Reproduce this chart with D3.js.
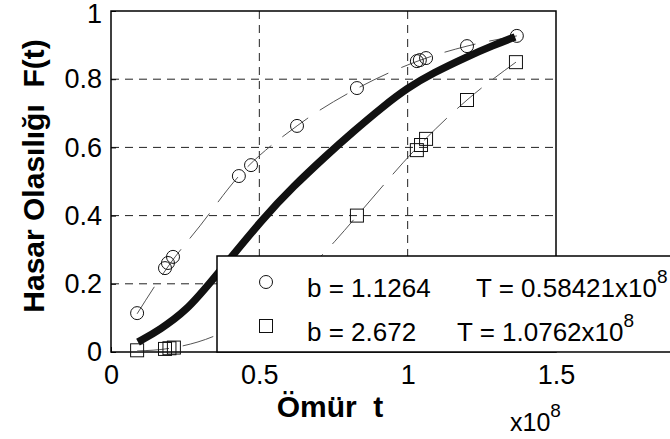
<!DOCTYPE html>
<html>
<head>
<meta charset="utf-8">
<script src="https://cdn.jsdelivr.net/npm/d3@7"></script>
<style>
  body { margin: 0; background: #fff; }
  svg { font-family: "Liberation Sans", Arial, sans-serif; }
</style>
</head>
<body>
<div id="chart"></div>
<script>
// axis ticks (x in units of 1e8)
const xTicks = [0, 0.5, 1, 1.5];
const yTicks = [0, 0.2, 0.4, 0.6, 0.8, 1];

// series 1 (circles): b = 1.1264, T = 0.58421e8
const circlePoints = [
  [0.088, 0.114], [0.182, 0.246], [0.192, 0.261], [0.209, 0.279],
  [0.431, 0.516], [0.472, 0.548], [0.627, 0.663], [0.829, 0.774],
  [1.031, 0.853], [1.041, 0.856], [1.062, 0.862], [1.2, 0.897], [1.368, 0.927]
];
const circleFit = [
  [0.088, 0.112], [0.2, 0.26], [0.3, 0.37], [0.43, 0.515], [0.63, 0.665],
  [0.83, 0.773], [1.04, 0.855], [1.2, 0.897], [1.368, 0.927]
];

// series 2 (squares): b = 2.672, T = 1.0762e8
const squarePoints = [
  [0.088, 0.005], [0.182, 0.009], [0.197, 0.011], [0.212, 0.013],
  [0.829, 0.40], [1.031, 0.592], [1.045, 0.607], [1.062, 0.625],
  [1.2, 0.739], [1.365, 0.85]
];
const squareFit = [
  [0.088, 0.003], [0.2, 0.011], [0.357, 0.05], [0.55, 0.155], [0.755, 0.325],
  [0.83, 0.40], [1.04, 0.607], [1.2, 0.739], [1.365, 0.85]
];

// thick curve
const thickCurve = [
  [0.091, 0.029], [0.165, 0.065], [0.256, 0.123], [0.334, 0.202], [0.519, 0.399],
  [0.613, 0.484], [0.728, 0.578], [0.816, 0.646], [0.917, 0.72], [1.0, 0.775],
  [1.085, 0.818], [1.2, 0.866], [1.288, 0.899], [1.362, 0.924]
];

const legendRows = [
  {marker: "circle", b: "b = 1.1264", T: "T = 0.58421x10"},
  {marker: "square", b: "b = 2.672", T: "T = 1.0762x10"}
];

const W = 670, H = 439;
const margin = {top: 11, right: 114, bottom: 87, left: 111};
const width = W - margin.left - margin.right;
const height = H - margin.top - margin.bottom;

const svg = d3.select("#chart").append("svg")
  .attr("width", W).attr("height", H);

const g = svg.append("g")
  .attr("transform", `translate(${margin.left},${margin.top})`);

const x = d3.scaleLinear().domain([0, 1.5]).range([0, width]);
const y = d3.scaleLinear().domain([0, 1]).range([height, 0]);

// grid
g.selectAll(".gx").data(xTicks.filter(d => d > 0 && d < 1.5)).enter()
  .append("line")
  .attr("x1", d => x(d)).attr("x2", d => x(d))
  .attr("y1", 0).attr("y2", height)
  .attr("stroke", "#222").attr("stroke-width", 1)
  .attr("stroke-dasharray", "8,6");
g.selectAll(".gy").data(yTicks.filter(d => d > 0 && d < 1)).enter()
  .append("line")
  .attr("x1", 0).attr("x2", width)
  .attr("y1", d => y(d)).attr("y2", d => y(d))
  .attr("stroke", "#222").attr("stroke-width", 1)
  .attr("stroke-dasharray", "8,6");

// axes
const xAxis = g.append("g").attr("transform", `translate(0,${height})`)
  .call(d3.axisBottom(x).tickValues(xTicks).tickFormat(d3.format("")).tickSizeInner(-5).tickSizeOuter(0).tickPadding(13));
const yAxis = g.append("g")
  .call(d3.axisLeft(y).tickValues(yTicks).tickFormat(d3.format("")).tickSizeInner(-5).tickSizeOuter(0).tickPadding(9));
[xAxis, yAxis].forEach(a => {
  a.select(".domain").remove();
  a.selectAll("line").attr("stroke", "#000");
  a.selectAll("text").attr("font-size", 27).attr("fill", "#000")
    .attr("font-family", "Liberation Sans, Arial, sans-serif");
});
xAxis.selectAll("text").attr("dy", "0.72em");
// top label sits right at the window edge, nudge it down a little
yAxis.selectAll("text").filter(d => d === 1).attr("dy", "0.42em");

// box
g.append("rect").attr("width", width).attr("height", height)
  .attr("fill", "none").attr("stroke", "#000").attr("stroke-width", 1.5);

// fit lines
const line = d3.line().x(d => x(d[0])).y(d => y(d[1])).curve(d3.curveMonotoneX);
const smooth = d3.line().x(d => x(d[0])).y(d => y(d[1])).curve(d3.curveBasis);
[circleFit, squareFit].forEach(s => {
  g.append("path").datum(s).attr("d", line)
    .attr("fill", "none").attr("stroke", "#555").attr("stroke-width", 1)
    .attr("stroke-dasharray", "32,14");
});

// thick curve
g.append("path").datum(thickCurve).attr("d", smooth)
  .attr("fill", "none").attr("stroke", "#111").attr("stroke-width", 7.5);

// markers
g.selectAll(".c").data(circlePoints).enter().append("circle")
  .attr("cx", d => x(d[0])).attr("cy", d => y(d[1])).attr("r", 6.5)
  .attr("fill", "none").attr("stroke", "#111").attr("stroke-width", 1);
g.selectAll(".s").data(squarePoints).enter().append("rect")
  .attr("x", d => x(d[0]) - 6.5).attr("y", d => y(d[1]) - 6.5)
  .attr("width", 13).attr("height", 13)
  .attr("fill", "none").attr("stroke", "#111").attr("stroke-width", 1);

// axis labels
svg.append("text").attr("x", 330).attr("y", 417)
  .attr("text-anchor", "middle").attr("font-size", 30).attr("font-weight", "bold")
  .text("Ömür  t").attr("xml:space", "preserve");
svg.append("text")
  .attr("transform", "translate(44,176) rotate(-90)")
  .attr("text-anchor", "middle").attr("font-size", 30).attr("font-weight", "bold")
  .attr("xml:space", "preserve")
  .text("Hasar Olasılığı  F(t)");
const xe = svg.append("text").attr("x", 510).attr("y", 431).attr("font-size", 25);
xe.append("tspan").text("x10");
xe.append("tspan").attr("dy", -14).attr("font-size", 19).text("8");

// legend
const leg = svg.append("g").attr("transform", "translate(217,256)");
leg.append("rect").attr("width", 500).attr("height", 96)
  .attr("fill", "#fff").attr("stroke", "#000").attr("stroke-width", 1.5);
legendRows.forEach((r, i) => {
  const cy = 26 + i * 44;
  if (r.marker === "circle") {
    leg.append("circle").attr("cx", 49).attr("cy", cy).attr("r", 6.5)
      .attr("fill", "none").attr("stroke", "#111");
  } else {
    leg.append("rect").attr("x", 42.5).attr("y", cy - 6.5).attr("width", 13).attr("height", 13)
      .attr("fill", "none").attr("stroke", "#111");
  }
  leg.append("text").attr("x", 90).attr("y", cy + 15).attr("font-size", 26).text(r.b);
  const t = leg.append("text").attr("x", i === 0 ? 259 : 240).attr("y", cy + 15).attr("font-size", 26);
  t.append("tspan").text(r.T);
  t.append("tspan").attr("dy", -14).attr("font-size", 19).text("8");
});
</script>
</body>
</html>
